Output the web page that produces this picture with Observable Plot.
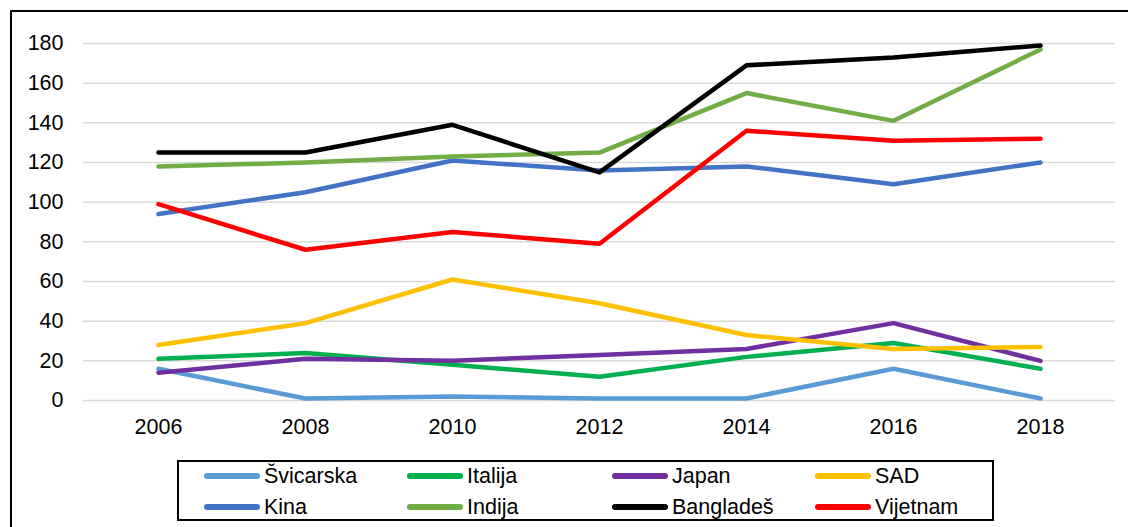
<!DOCTYPE html>
<html>
<head>
<meta charset="utf-8">
<script src="https://cdn.jsdelivr.net/npm/d3@7"></script>
<script src="https://cdn.jsdelivr.net/npm/@observablehq/plot@0.6"></script>
<style>
  html, body { margin: 0; padding: 0; background: #fff; overflow: hidden; }
  #wrap { position: relative; width: 1128px; height: 527px; overflow: hidden; font-family: "Liberation Sans", Arial, sans-serif; }
  #frame { position: absolute; left: 10px; top: 10px; width: 1300px; height: 800px; border: 2px solid #000; box-sizing: border-box; }
  #chart { position: absolute; left: 0; top: 0; }
  #legend { position: absolute; left: 177px; top: 460px; width: 817px; height: 61px; border: 2px solid #000; box-sizing: border-box; background: #fff; }
  .item { position: absolute; display: flex; align-items: center; font-size: 21.5px; color: #000; height: 26px; }
  .swatch { width: 56px; height: 6px; border-radius: 3px; margin-right: 4px; }
</style>
</head>
<body>
<div id="wrap">
  <div id="frame"></div>
  <div id="chart"></div>
  <div id="legend"></div>
</div>
<script>
const years = ["2006", "2008", "2010", "2012", "2014", "2016", "2018"];
const seriesNames = ["Švicarska", "Italija", "Japan", "SAD", "Kina", "Indija", "Bangladeš", "Vijetnam"];
const seriesColors = ["#5B9BD5", "#00B050", "#7030A0", "#FFC000", "#4472C4", "#70AD47", "#000000", "#FF0000"];
const svicarska = [16, 1, 2, 1, 1, 16, 1];
const italija = [21, 24, 18, 12, 22, 29, 16];
const japan = [14, 21, 20, 23, 26, 39, 20];
const sad = [28, 39, 61, 49, 33, 26, 27];
const kina = [94, 105, 121, 116, 118, 109, 120];
const indija = [118, 120, 123, 125, 155, 141, 177];
const banglades = [125, 125, 139, 115, 169, 173, 179];
const vijetnam = [99, 76, 85, 79, 136, 131, 132];
const yTicks = [0, 20, 40, 60, 80, 100, 120, 140, 160, 180];

const seriesValues = [svicarska, italija, japan, sad, kina, indija, banglades, vijetnam];
const data = [];
seriesNames.forEach((name, i) => {
  years.forEach((yr, j) => data.push({series: name, year: yr, value: seriesValues[i][j]}));
});

const font = "'Liberation Sans', Arial, sans-serif";
const chart = Plot.plot({
  width: 1128,
  height: 440,
  marginLeft: 83,
  marginRight: 13,
  marginTop: 43,
  marginBottom: 40,
  style: {fontFamily: font, fontSize: "21.5px", color: "#000", background: "transparent"},
  x: {type: "point", domain: years, padding: 0.5, label: null},
  y: {domain: [0, 180], label: null},
  color: {domain: seriesNames, range: seriesColors},
  marks: [
    Plot.ruleY(yTicks, {stroke: "#d9d9d9", strokeWidth: 1.5}),
    Plot.axisY(yTicks, {tickSize: 0, tickPadding: 20, label: null, fontSize: 21.5}),
    Plot.axisX(years, {tickSize: 0, tickPadding: 18, label: null, fontSize: 21.5}),
    ...seriesNames.map(name => Plot.line(data.filter(d => d.series === name), {
      x: "year", y: "value", stroke: "series", strokeWidth: 4.5, strokeLinecap: "round", strokeLinejoin: "round"
    }))
  ]
});
document.getElementById("chart").appendChild(chart);

const legend = document.getElementById("legend");
const colX = [25, 228, 433, 636];
const rowY = [1, 32];
seriesNames.forEach((name, i) => {
  const it = document.createElement("div");
  it.className = "item";
  it.style.left = colX[i % 4] + "px";
  it.style.top = rowY[Math.floor(i / 4)] + "px";
  const sw = document.createElement("div");
  sw.className = "swatch";
  sw.style.background = seriesColors[i];
  const tx = document.createElement("span");
  tx.textContent = name;
  it.appendChild(sw);
  it.appendChild(tx);
  legend.appendChild(it);
});
</script>
</body>
</html>
